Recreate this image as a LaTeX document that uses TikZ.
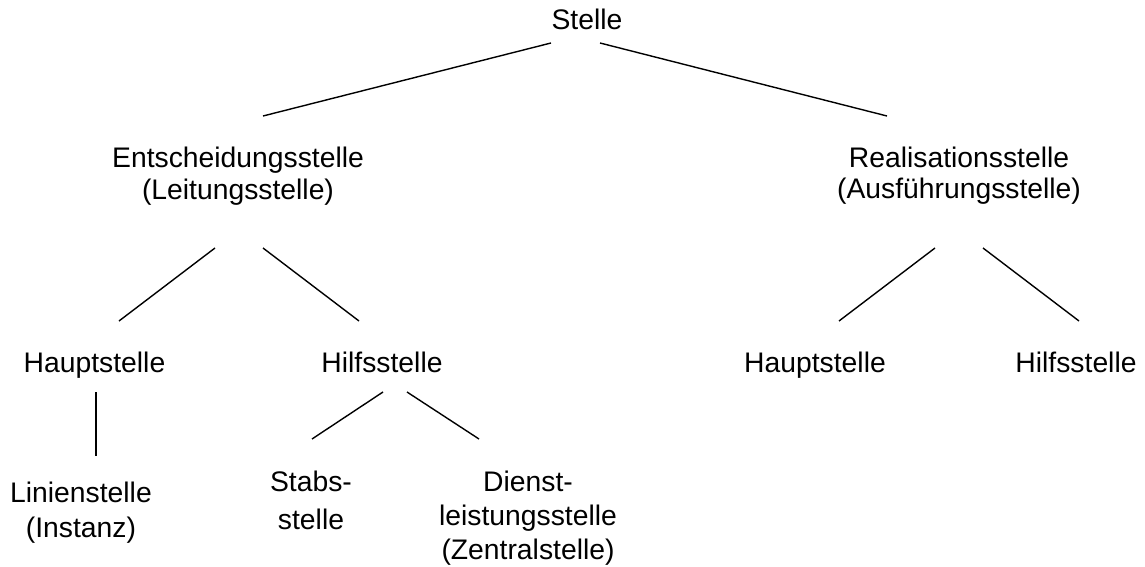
\documentclass[tikz,border=0pt]{standalone}
\usepackage{fontspec}
\setmainfont{Liberation Sans}
\begin{document}
\begin{tikzpicture}[x=1pt,y=-1pt,
  lbl/.style={inner sep=0pt,align=center,font=\fontsize{28.3}{34}\selectfont},
  conn/.style={line width=1.4pt,black}]
\useasboundingbox (0,0) rectangle (1145,567);
% labels
\node[lbl,anchor=base] (stelle) at (587,30) {Stelle};
\node[lbl,anchor=north,font=\fontsize{28.3}{32}\selectfont] (entsch) at (238,146.3) {Entscheidungsstelle\\(Leitungsstelle)};
\node[lbl,anchor=north,font=\fontsize{28.3}{31.5}\selectfont] (real) at (959,146.3) {Realisationsstelle\\(Ausführungsstelle)};
\node[lbl,anchor=base] (hauptL) at (94.5,372) {Hauptstelle};
\node[lbl,anchor=base] (hilfL) at (382,372) {Hilfsstelle};
\node[lbl,anchor=base] (hauptR) at (815,372) {Hauptstelle};
\node[lbl,anchor=base] (hilfR) at (1076,372) {Hilfsstelle};
\node[lbl,anchor=north,font=\fontsize{28.3}{35}\selectfont] (linien) at (81,481.3) {Linienstelle\\(Instanz)};
\node[lbl,anchor=north,font=\fontsize{28.3}{38}\selectfont] (stabs) at (311,470.3) {Stabs-\\stelle};
\node[lbl,anchor=north,font=\fontsize{28.3}{34}\selectfont] (dienst) at (528,470.3) {Dienst-\\leistungsstelle\\(Zentralstelle)};
% connector end points
\coordinate (s1) at (551,43);   \coordinate (e0) at (263,116);
\coordinate (s2) at (600,43);   \coordinate (r0) at (887,116);
\coordinate (e1) at (215,248);  \coordinate (hL0) at (119,321);
\coordinate (e2) at (263,248);  \coordinate (iL0) at (359,321);
\coordinate (r1) at (935,248);  \coordinate (hR0) at (839,321);
\coordinate (r2) at (983,248);  \coordinate (iR0) at (1079,321);
\coordinate (hL1) at (96,392);  \coordinate (l0) at (96,456);
\coordinate (iL1) at (383,392); \coordinate (st0) at (312,439);
\coordinate (iL2) at (407,392); \coordinate (d0) at (479,439);
% connectors
\draw[conn] (s1) -- (e0);
\draw[conn] (s2) -- (r0);
\draw[conn] (e1) -- (hL0);
\draw[conn] (e2) -- (iL0);
\draw[conn] (r1) -- (hR0);
\draw[conn] (r2) -- (iR0);
\draw[conn] (hL1) -- (l0);
\draw[conn] (iL1) -- (st0);
\draw[conn] (iL2) -- (d0);
\end{tikzpicture}
\end{document}
